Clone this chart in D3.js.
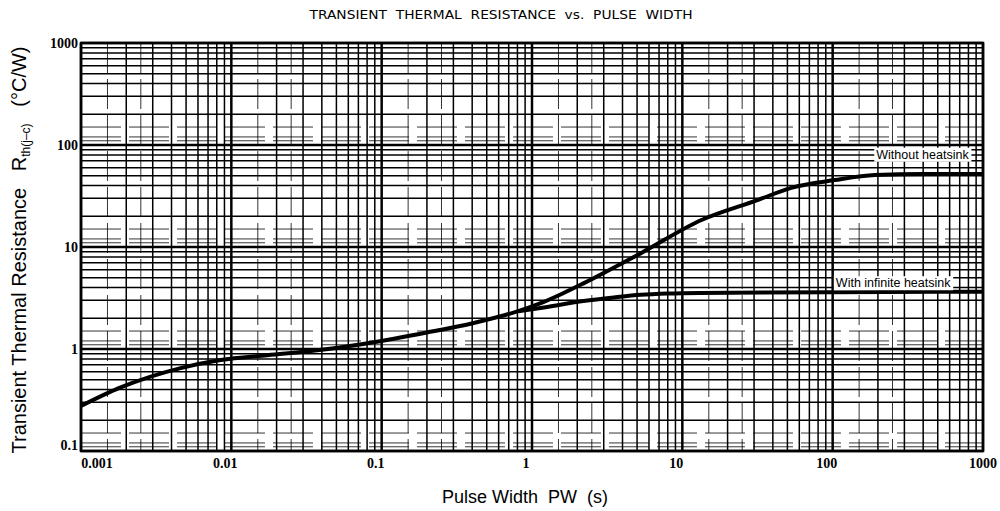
<!DOCTYPE html>
<meta charset="utf-8">
<script src="https://d3js.org/d3.v7.min.js"></script>
<style>
body { margin: 0; background: #fff; }
text { white-space: pre; }
</style>
<div id="chart"></div>
<script>

// values
var xTicks = [0.001, 0.01, 0.1, 1, 10, 100, 1000];
var xTickLabels = ["0.001", "0.01", "0.1", "1", "10", "100", "1000"];
var yTicks = [0.1, 1, 10, 100, 1000];
var yTickLabels = ["0.1", "1", "10", "100", "1000"];

var pwNoSink  = [0.001, 0.0018, 0.0046, 0.0085, 0.0174, 0.035, 0.081, 0.2, 0.41, 0.81, 1.2, 1.6, 2.2, 5.3, 13.4, 32, 53, 103, 191, 400, 1000];
var rthNoSink = [0.276, 0.415, 0.65, 0.78, 0.87, 0.96, 1.14, 1.45, 1.8, 2.35, 2.9, 3.5, 4.4, 8.7, 18.4, 29, 38, 45.3, 50.8, 52, 52];

var pwInf  = [0.81, 1.2, 2.2, 3.5, 5.3, 8, 13, 100, 1000];
var rthInf = [2.35, 2.55, 2.95, 3.2, 3.4, 3.5, 3.55, 3.6, 3.65];

var margin = {top: 43, right: 17, bottom: 60, left: 81},
    width = 1000 - margin.left - margin.right,
    height = 511 - margin.top - margin.bottom;

var svg = d3.select("#chart")
  .append("svg")
    .attr("width", 1000)
    .attr("height", 511);

var g = svg.append("g")
    .attr("transform", "translate(" + margin.left + "," + margin.top + ")");

var x = d3.scaleLog()
  .domain([0.001, 1000])
  .range([0, width]);

var y = d3.scaleLog()
  .domain([0.1, 1000])
  .range([height, 0]);

// minor grid (log paper)
var xMinor = [], yMinor = [];
xTicks.slice(0, -1).forEach(function(d) {
  for (var k = 2; k < 10; k++) xMinor.push(d * k);
});
yTicks.slice(0, -1).forEach(function(d) {
  for (var k = 2; k < 10; k++) yMinor.push(d * k);
});
var xHalf = [], yHalf = [];
xTicks.slice(0, -1).forEach(function(d) { xHalf.push(d * 1.5); xHalf.push(d * 2.5); });
yTicks.slice(0, -1).forEach(function(d) { yHalf.push(d * 1.2); yHalf.push(d * 1.5); yHalf.push(d * 1.1); });

g.append("g").selectAll("line")
  .data(xHalf)
  .enter().append("line")
    .attr("x1", function(d) { return x(d); })
    .attr("x2", function(d) { return x(d); })
    .attr("y1", 0).attr("y2", height)
    .attr("stroke", "#000").attr("stroke-width", 0.8)
    .attr("stroke-dasharray", "30,6");

g.append("g").selectAll("line")
  .data(yHalf)
  .enter().append("line")
    .attr("y1", function(d) { return y(d); })
    .attr("y2", function(d) { return y(d); })
    .attr("x1", 0).attr("x2", width)
    .attr("stroke", "#000").attr("stroke-width", 0.8)
    .attr("stroke-dasharray", "40,8");

g.append("g").selectAll("line")
  .data(xMinor)
  .enter().append("line")
    .attr("x1", function(d) { return x(d); })
    .attr("x2", function(d) { return x(d); })
    .attr("y1", 0).attr("y2", height)
    .attr("stroke", "#000").attr("stroke-width", 1.5);

g.append("g").selectAll("line")
  .data(yMinor)
  .enter().append("line")
    .attr("y1", function(d) { return y(d); })
    .attr("y2", function(d) { return y(d); })
    .attr("x1", 0).attr("x2", width)
    .attr("stroke", "#000").attr("stroke-width", 1.5);

// decade lines
g.append("g").selectAll("line")
  .data(xTicks)
  .enter().append("line")
    .attr("x1", function(d) { return x(d); })
    .attr("x2", function(d) { return x(d); })
    .attr("y1", 0).attr("y2", height)
    .attr("stroke", "#000").attr("stroke-width", 2.5);

g.append("g").selectAll("line")
  .data(yTicks)
  .enter().append("line")
    .attr("y1", function(d) { return y(d); })
    .attr("y2", function(d) { return y(d); })
    .attr("x1", 0).attr("x2", width)
    .attr("stroke", "#000").attr("stroke-width", 2.5);

g.append("rect")
  .attr("width", width).attr("height", height)
  .attr("fill", "none").attr("stroke", "#000").attr("stroke-width", 2.5);

// curves
var line = d3.line()
  .x(function(d) { return x(d[0]); })
  .y(function(d) { return y(d[1]); })
  .curve(d3.curveMonotoneX);

g.append("path")
  .datum(d3.zip(pwNoSink, rthNoSink))
  .attr("d", line)
  .attr("fill", "none").attr("stroke", "#000").attr("stroke-width", 4);

g.append("path")
  .datum(d3.zip(pwInf, rthInf))
  .attr("d", line)
  .attr("fill", "none").attr("stroke", "#000").attr("stroke-width", 4);

// curve labels
function note(txt, xv, yv) {
  var t = g.append("text")
    .style("font-family", "'Liberation Sans', Arial, sans-serif")
    .style("font-size", "12.5px")
    .attr("x", x(xv)).attr("y", y(yv))
    .attr("dy", "0.35em")
    .text(txt);
  var b = t.node().getBBox();
  g.insert("rect", function() { return t.node(); })
    .attr("x", b.x - 2).attr("y", b.y)
    .attr("width", b.width + 4).attr("height", b.height)
    .attr("fill", "#fff");
}
note("Without heatsink", 195, 81);
note("With infinite heatsink", 105, 4.45);

// tick labels
g.append("g").selectAll("text")
  .data(xTicks)
  .enter().append("text")
    .style("font-family", "'Liberation Serif', 'DejaVu Serif', serif")
    .style("font-weight", "bold")
    .style("font-size", "14px")
    .attr("x", function(d, i) { return x(d) + (i === 0 ? 16 : i === xTicks.length - 1 ? 0 : -6); })
    .attr("y", height + 17)
    .attr("text-anchor", "middle")
    .text(function(d, i) { return xTickLabels[i]; });

g.append("g").selectAll("text")
  .data(yTicks)
  .enter().append("text")
    .style("font-family", "'Liberation Serif', 'DejaVu Serif', serif")
    .style("font-weight", "bold")
    .style("font-size", "14px")
    .attr("x", -3)
    .attr("y", function(d, i) { return y(d) + (i === 0 ? -5 : 1); })
    .attr("dy", "0.32em")
    .attr("text-anchor", "end")
    .text(function(d, i) { return yTickLabels[i]; });

// title and axis labels
svg.append("text")
  .attr("x", 501).attr("y", 19)
  .attr("text-anchor", "middle")
  .attr("textLength", 383).attr("lengthAdjust", "spacingAndGlyphs")
  .style("font-family", "'DejaVu Sans', sans-serif")
  .style("font-size", "12px")
  .text("TRANSIENT  THERMAL  RESISTANCE  vs.  PULSE  WIDTH");

svg.append("text")
  .style("font-family", "'Liberation Sans', Arial, sans-serif")
  .style("font-size", "18px")
  .attr("x", 525).attr("y", 503)
  .attr("text-anchor", "middle")
  .text("Pulse Width  PW  (s)");

var yl = svg.append("text")
  .style("font-family", "'Liberation Sans', Arial, sans-serif")
  .style("font-size", "20px")
  .attr("transform", "translate(26,250) rotate(-90)")
  .attr("text-anchor", "middle");
yl.append("tspan").text("Transient Thermal Resistance   R");
yl.append("tspan").attr("dy", 4).style("font-size", "12px").text("th(j–c)");
yl.append("tspan").attr("dy", -4).text("   (°C/W)");

</script>
